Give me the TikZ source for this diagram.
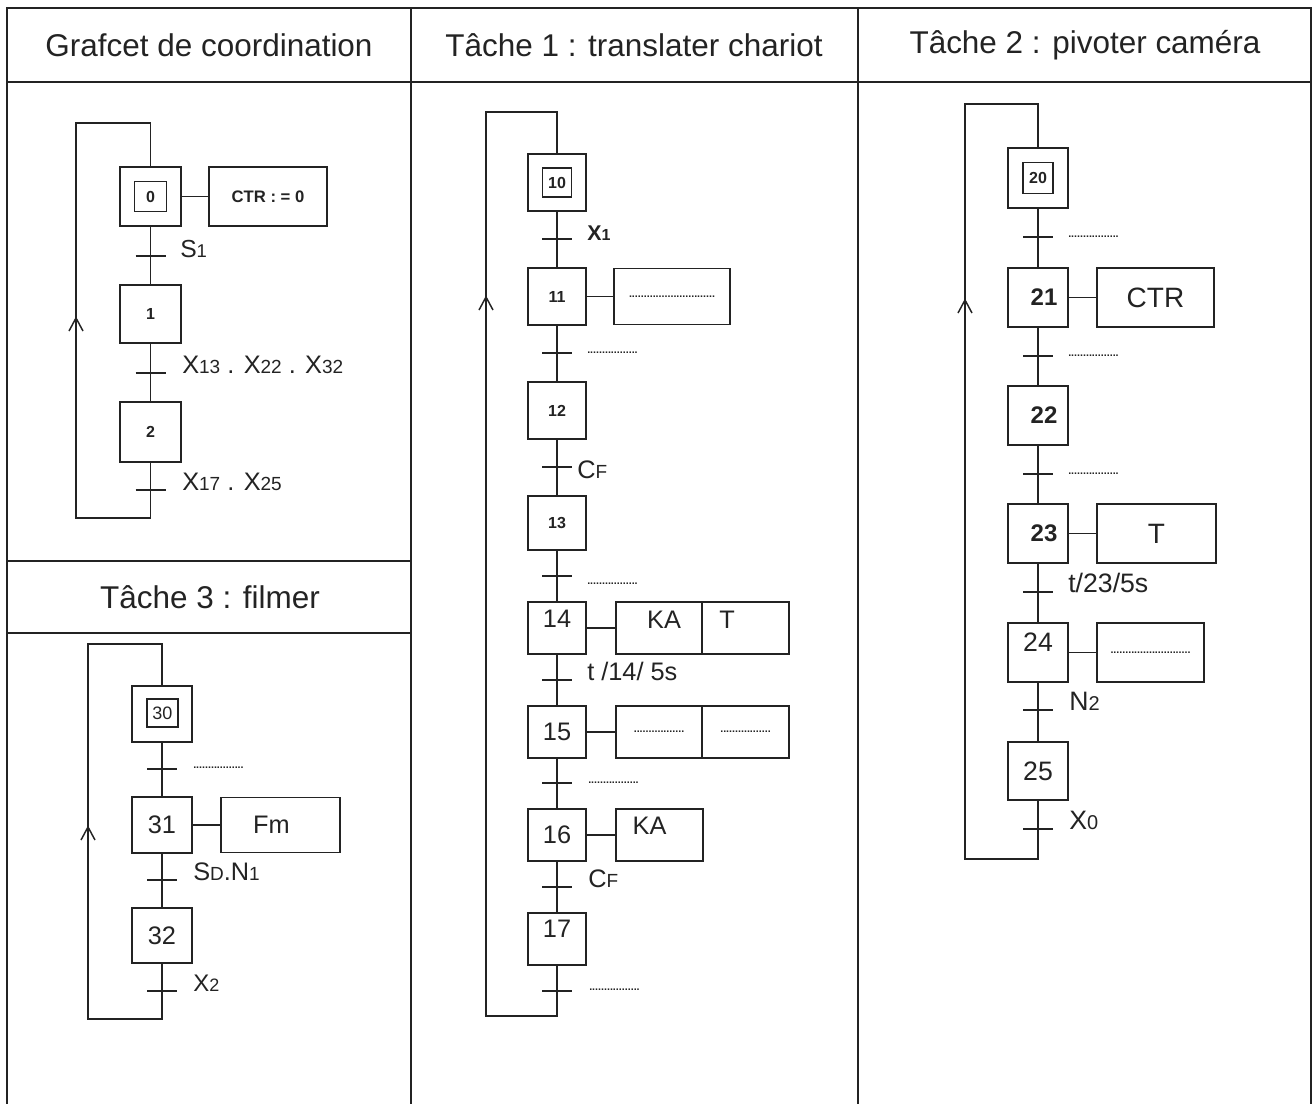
\documentclass[tikz,border=0pt]{standalone}
\usepackage{fontspec}
\setmainfont{Liberation Sans}
\usepackage{graphicx}
\newcommand\lsub[1]{\scalebox{0.75}{#1}}
\newcommand\fsz[1]{\fontsize{#1}{#1}\selectfont}
\newcommand\grtick[1]{\draw[ink] ([xshift=-11.25pt]#1) -- ([xshift=11.25pt]#1);}
\newcommand\grchev[1]{\draw[ink] ([shift={(-7,13)}]#1) -- (#1) -- ([shift={(7,13)}]#1);}
\definecolor{inkc}{RGB}{35,35,35}
\tikzset{
  ink/.style={draw=inkc, line width=1.1pt},
  stepbox/.style n args={2}{draw=inkc, line width=1.1pt, inner sep=0pt, text=inkc,
     minimum width=#1, minimum height=#2},
  lbl/.style={inner sep=0pt, text=inkc},
  hdr/.style={inner sep=0pt, text=inkc, font=\fsz{23.6pt}},
  nsm/.style={font=\fsz{12pt}\bfseries},
  nlg/.style={font=\fsz{19pt}},
  nbd/.style={font=\fsz{18pt}\bfseries},
  nmd/.style={font=\fsz{20pt}},
  dts/.style={inner sep=0pt, text=inkc, font=\fsz{8pt}\bfseries},
}
\begin{document}
\begin{tikzpicture}[x=0.75pt, y=-0.75pt]
\useasboundingbox (0,0) rectangle (1315,1104);
% ---------- table ----------
\draw[ink] (7,1104) -- (7,8) -- (1311,8) -- (1311,1104);
\draw[ink] (7,82) -- (1311,82);
\draw[ink] (411,8) -- (411,1104);
\draw[ink] (858,8) -- (858,1104);
\draw[ink] (7,561) -- (411,561);
\draw[ink] (7,633) -- (411,633);
\node[hdr] (h0) at (209,45) {Grafcet de coordination};
\node[hdr] (h1) at (634,45) {Tâche 1 : translater chariot};
\node[hdr] (h2) at (1085,45) {Tâche 2 : pivoter caméra};
\node[hdr] (h3) at (210,597) {Tâche 3 : filmer};

% ---------- Grafcet de coordination ----------
\node[stepbox={45.75pt}{44.25pt}] (s0) at (150.5,196.5) {};
\node[stepbox={24pt}{22.5pt}, nsm] (s0i) at (s0) {0};
\node[stepbox={88.5pt}{44.25pt}, font=\fsz{12.5pt}\bfseries] (a0) at (268,196.5) {CTR : = 0};
\node[stepbox={45.75pt}{43.5pt}, nsm] (s1) at (150.5,314) {1};
\node[stepbox={45.75pt}{45pt}, nsm] (s2) at (150.5,432) {2};
\coordinate (t0) at (150.5,256);
\coordinate (t1) at (150.5,373);
\coordinate (t2) at (150.5,490);
\coordinate (c0br) at (150.5,518);
\coordinate (c0bl) at (76,518);
\coordinate (c0tl) at (76,123);
\coordinate (c0tr) at (150.5,123);
\coordinate (c0ar) at (76,318);
\draw[ink] (s0) -- (a0);
\draw[ink] (s0) -- (s1);
\draw[ink] (s1) -- (s2);
\draw[ink] (s2) -- (c0br) -- (c0bl) -- (c0tl) -- (c0tr) -- (s0);
\grtick{t0}\grtick{t1}\grtick{t2}
\grchev{c0ar}
\node[lbl, anchor=base west, font=\fsz{18.5pt}] (l0) at (180,257) {S\lsub{1}};
\node[lbl, anchor=base west, font=\fsz{19pt}] (l1) at (182,373) {X\lsub{13} . X\lsub{22} . X\lsub{32}};
\node[lbl, anchor=base west, font=\fsz{19pt}] (l2) at (182,490) {X\lsub{17} . X\lsub{25}};

% ---------- Tache 3 ----------
\node[stepbox={45pt}{42pt}] (s30) at (162,714) {};
\node[stepbox={23.25pt}{21pt}, font=\fsz{13.5pt}] (s30i) at (162.5,713) {30};
\node[stepbox={45pt}{42pt}, nlg] (s31) at (162,825) {31};
\node[stepbox={89.25pt}{41.25pt}, nlg] (a31) at (280.5,825) {Fm\hspace*{13.5pt}};
\node[stepbox={45pt}{41.25pt}, nlg] (s32) at (162,935.5) {32};
\coordinate (t30) at (162,769);
\coordinate (t31) at (162,880);
\coordinate (t32) at (162,991);
\coordinate (c3br) at (162,1019);
\coordinate (c3bl) at (88,1019);
\coordinate (c3tl) at (88,644);
\coordinate (c3tr) at (162,644);
\coordinate (c3ar) at (88,827);
\draw[ink] (s31) -- (a31);
\draw[ink] (s30) -- (s31);
\draw[ink] (s31) -- (s32);
\draw[ink] (s32) -- (c3br) -- (c3bl) -- (c3tl) -- (c3tr) -- (s30);
\grtick{t30}\grtick{t31}\grtick{t32}
\grchev{c3ar}
\node[dts, anchor=base west] (l30) at (193,768) {.................};
\node[lbl, anchor=base west, font=\fsz{19pt}] (l31) at (193,880) {S\lsub{D}.N\lsub{1}};
\node[lbl, anchor=base west, font=\fsz{18pt}] (l32) at (193,991) {X\lsub{2}};

% ---------- Tache 1 ----------
\node[stepbox={43.5pt}{42.75pt}] (s10) at (557,182.5) {};
\node[stepbox={21.75pt}{21.75pt}, nsm] (s10i) at (s10) {10};
\node[stepbox={43.5pt}{42.75pt}, nsm] (s11) at (557,296.5) {11};
\node[stepbox={87pt}{42pt}, dts] (a11) at (672,296.5) {.............................};
\node[stepbox={43.5pt}{42.75pt}, nsm] (s12) at (557,410.5) {12};
\node[stepbox={43.5pt}{40.5pt}, nsm] (s13) at (557,523) {13};
\node[stepbox={43.5pt}{39pt}, nlg] (s14) at (557,628) {\raisebox{13.5pt}{14}};
\node[stepbox={64.5pt}{39pt}, nlg] (a14a) at (659,628) {\raisebox{12pt}{\hspace*{7.5pt}KA}};
\node[stepbox={65.25pt}{39pt}, nlg] (a14b) at (745.5,628) {\raisebox{12pt}{T\hspace*{27.75pt}}};
\node[stepbox={43.5pt}{39pt}, nlg] (s15) at (557,732) {15};
\node[stepbox={64.5pt}{39pt}, dts] (a15a) at (659,732) {.................};
\node[stepbox={65.25pt}{39pt}, dts] (a15b) at (745.5,732) {.................};
\node[stepbox={43.5pt}{39pt}, nlg] (s16) at (557,835) {16};
\node[stepbox={65.25pt}{39pt}, nlg] (a16) at (659.5,835) {\raisebox{13.5pt}{KA\hspace*{15pt}}};
\node[stepbox={43.5pt}{39pt}, nlg] (s17) at (557,939) {\raisebox{15pt}{17}};
\coordinate (t10) at (557,239);
\coordinate (t11) at (557,353);
\coordinate (t12) at (557,467);
\coordinate (t13) at (557,576);
\coordinate (t14) at (557,680);
\coordinate (t15) at (557,783);
\coordinate (t16) at (557,887);
\coordinate (t17) at (557,991);
\coordinate (c1br) at (557,1016);
\coordinate (c1bl) at (486,1016);
\coordinate (c1tl) at (486,112);
\coordinate (c1tr) at (557,112);
\coordinate (c1ar) at (486,297);
\draw[ink] (s11) -- (a11);
\draw[ink] (s14) -- (a14a);
\draw[ink] (s15) -- (a15a);
\draw[ink] (s16) -- (a16);
\draw[ink] (s10) -- (s11);
\draw[ink] (s11) -- (s12);
\draw[ink] (s12) -- (s13);
\draw[ink] (s13) -- (s14);
\draw[ink] (s14) -- (s15);
\draw[ink] (s15) -- (s16);
\draw[ink] (s16) -- (s17);
\draw[ink] (s17) -- (c1br) -- (c1bl) -- (c1tl) -- (c1tr) -- (s10);
\grtick{t10}\grtick{t11}\grtick{t12}\grtick{t13}\grtick{t14}\grtick{t15}\grtick{t16}\grtick{t17}
\grchev{c1ar}
\node[lbl, anchor=base west, font=\fsz{16pt}\bfseries] (l10) at (587,240) {X\lsub{1}};
\node[dts, anchor=base west] (l11) at (587,353) {.................};
\node[lbl, anchor=base west, font=\fsz{19pt}] (l12) at (577,478) {C\lsub{F}};
\node[dts, anchor=base west] (l13) at (587,584) {.................};
\node[lbl, anchor=base west, font=\fsz{19pt}] (l14) at (587,680) {t /14/ 5s};
\node[dts, anchor=base west] (l15) at (588,783) {.................};
\node[lbl, anchor=base west, font=\fsz{19pt}] (l16) at (588,887) {C\lsub{F}};
\node[dts, anchor=base west] (l17) at (589,990) {.................};

% ---------- Tache 2 ----------
\node[stepbox={45pt}{45pt}] (s20) at (1038,178) {};
\node[stepbox={22.5pt}{23.25pt}, nsm] (s20i) at (s20) {20};
\node[stepbox={45pt}{44.25pt}, nbd] (s21) at (1038,297.5) {\hspace*{9pt}21};
\node[stepbox={87.75pt}{44.25pt}, font=\fsz{21pt}] (a21) at (1155.5,297.5) {CTR};
\node[stepbox={45pt}{44.25pt}, nbd] (s22) at (1038,415.5) {\hspace*{9pt}22};
\node[stepbox={45pt}{44.25pt}, nbd] (s23) at (1038,533.5) {\hspace*{9pt}23};
\node[stepbox={89.25pt}{44.25pt}, font=\fsz{21pt}] (a23) at (1156.5,533.5) {T};
\node[stepbox={45pt}{44.25pt}, nmd] (s24) at (1038,652.5) {\raisebox{15pt}{24}};
\node[stepbox={80.25pt}{44.25pt}, dts] (a24) at (1150.5,652.5) {...........................};
\node[stepbox={45pt}{43.5pt}, nmd] (s25) at (1038,771) {25};
\coordinate (t20) at (1038,237);
\coordinate (t21) at (1038,356);
\coordinate (t22) at (1038,474);
\coordinate (t23) at (1038,592);
\coordinate (t24) at (1038,710);
\coordinate (t25) at (1038,829);
\coordinate (c2br) at (1038,859);
\coordinate (c2bl) at (965,859);
\coordinate (c2tl) at (965,104);
\coordinate (c2tr) at (1038,104);
\coordinate (c2ar) at (965,300);
\draw[ink] (s21) -- (a21);
\draw[ink] (s23) -- (a23);
\draw[ink] (s24) -- (a24);
\draw[ink] (s20) -- (s21);
\draw[ink] (s21) -- (s22);
\draw[ink] (s22) -- (s23);
\draw[ink] (s23) -- (s24);
\draw[ink] (s24) -- (s25);
\draw[ink] (s25) -- (c2br) -- (c2bl) -- (c2tl) -- (c2tr) -- (s20);
\grtick{t20}\grtick{t21}\grtick{t22}\grtick{t23}\grtick{t24}\grtick{t25}
\grchev{c2ar}
\node[dts, anchor=base west] (l20) at (1068,237) {.................};
\node[dts, anchor=base west] (l21) at (1068,356) {.................};
\node[dts, anchor=base west] (l22) at (1068,474) {.................};
\node[lbl, anchor=base west, font=\fsz{20pt}] (l23) at (1068,592) {t/23/5s};
\node[lbl, anchor=base west, font=\fsz{20pt}] (l24) at (1069,710) {N\lsub{2}};
\node[lbl, anchor=base west, font=\fsz{20pt}] (l25) at (1069,829) {X\lsub{0}};
\end{tikzpicture}
\end{document}
